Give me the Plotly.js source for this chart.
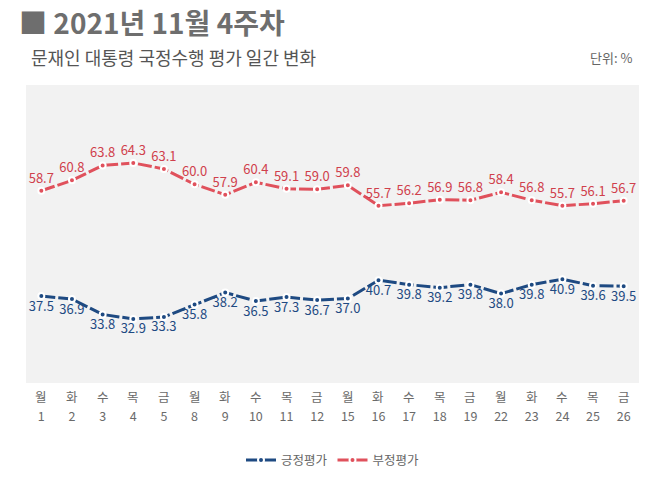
<!DOCTYPE html>
<html>
<head>
<meta charset="utf-8">
<script src="https://cdn.plot.ly/plotly-3.0.1.min.js"></script>
<style>html,body{margin:0;padding:0;background:#fff;}#chart{width:658px;height:483px;}</style>
</head>
<body>
<div id="chart"></div>
<script>
var weekdays = ['월','화','수','목','금','월','화','수','목','금','월','화','수','목','금','월','화','수','목','금'];
var days = ['1','2','3','4','5','8','9','10','11','12','15','16','17','18','19','22','23','24','25','26'];
var positive = [37.5,36.9,33.8,32.9,33.3,35.8,38.2,36.5,37.3,36.7,37.0,40.7,39.8,39.2,39.8,38.0,39.8,40.9,39.6,39.5];
var negative = [58.7,60.8,63.8,64.3,63.1,60.0,57.9,60.4,59.1,59.0,59.8,55.7,56.2,56.9,56.8,58.4,56.8,55.7,56.1,56.7];
var seriesNames = ['긍정평가','부정평가'];

var FONT = 'Noto Sans CJK KR, Noto Sans, sans-serif';
var BLUE = '#1e4a82';
var RED = '#e0515c';

var traces = [
  {
    x: days, y: positive, name: seriesNames[0], type: 'scatter', mode: 'lines+markers+text',
    line: {color: BLUE, width: 3, dash: '14px,3px'},
    marker: {color: BLUE, size: 6, line: {color: '#ffffff', width: 2}},
    text: positive.map(function(v){ return v.toFixed(1); }),
    textposition: 'bottom center',
    textfont: {family: FONT, size: 13, color: BLUE},
    cliponaxis: false
  },
  {
    x: days, y: negative, name: seriesNames[1], type: 'scatter', mode: 'lines+markers+text',
    line: {color: RED, width: 3, dash: '14px,3px'},
    marker: {color: RED, size: 6, line: {color: '#ffffff', width: 2}},
    text: negative.map(function(v){ return v.toFixed(1); }),
    textposition: 'top center',
    textfont: {family: FONT, size: 13, color: '#d0404c'},
    cliponaxis: false
  }
];

var annotations = [
  {text: '■ 2021년 11월 4주차', xref: 'paper', yref: 'paper', x: -0.014, y: 1.212, xanchor: 'left', yanchor: 'middle',
   showarrow: false, font: {family: FONT, size: 28, color: '#6e6e6e', weight: 'bold'}},
  {text: '문재인 대통령 국정수행 평가 일간 변화', xref: 'paper', yref: 'paper', x: 0.005, y: 1.094, xanchor: 'left', yanchor: 'middle',
   showarrow: false, font: {family: FONT, size: 18, color: '#555555'}},
  {text: '단위: %', xref: 'paper', yref: 'paper', x: 0.992, y: 1.091, xanchor: 'right', yanchor: 'middle',
   showarrow: false, font: {family: FONT, size: 13, color: '#666666'}}
];
days.forEach(function(d, i){
  annotations.push({text: weekdays[i], xref: 'x', yref: 'paper', x: i, y: -0.046, xanchor: 'center', yanchor: 'middle',
    showarrow: false, font: {family: FONT, size: 12.5, color: '#6a6a6a'}});
});

var layout = {
  width: 658, height: 483,
  margin: {l: 26, r: 19, t: 85, b: 100},
  paper_bgcolor: '#ffffff',
  plot_bgcolor: '#f2f2f2',
  font: {family: FONT},
  showlegend: true,
  legend: {orientation: 'h', x: 0.5, xanchor: 'center', yref: 'container', y: 0.047, yanchor: 'middle',
           font: {family: FONT, size: 12.5, color: '#666666'}, traceorder: 'normal'},
  xaxis: {type: 'category', range: [-0.5, 19.5], showgrid: false, zeroline: false, showline: false, automargin: false,
          ticks: '', ticklabelstandoff: 24, tickfont: {family: FONT, size: 12.5, color: '#6a6a6a'}, fixedrange: true},
  yaxis: {range: [20, 80], showgrid: false, zeroline: false, showline: false, showticklabels: false, automargin: false, fixedrange: true},
  annotations: annotations
};

Plotly.newPlot('chart', traces, layout, {displayModeBar: false, staticPlot: true});
</script>
</body>
</html>
